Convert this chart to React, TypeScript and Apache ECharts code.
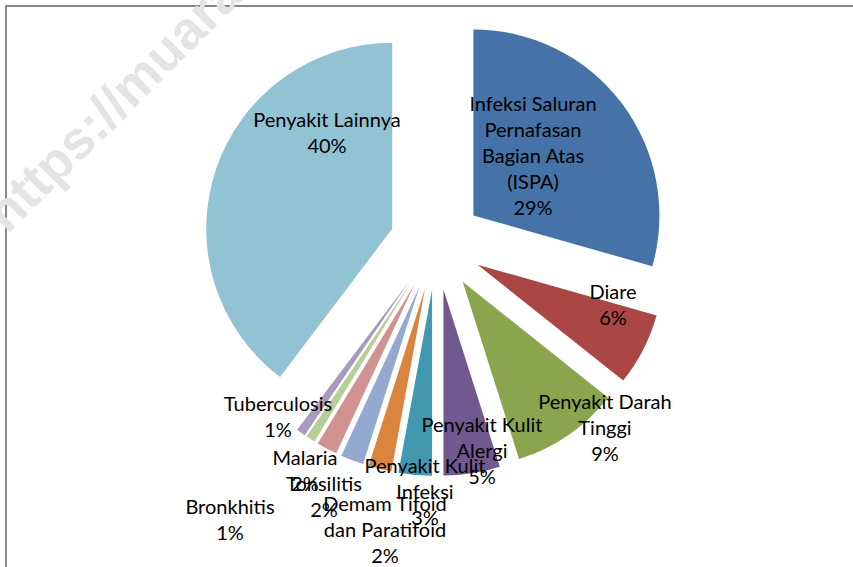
import React, { useEffect, useRef } from "react";
import * as echarts from "echarts";

const categories = [
  "Infeksi Saluran Pernafasan Bagian Atas (ISPA)",
  "Diare",
  "Penyakit Darah Tinggi",
  "Penyakit Kulit Alergi",
  "Penyakit Kulit Infeksi",
  "Demam Tifoid dan Paratifoid",
  "Tonsilitis",
  "Malaria",
  "Bronkhitis",
  "Tuberculosis",
  "Penyakit Lainnya",
];
// shares (percent); labels show them rounded
const values = [29.4, 6.3, 9.4, 4.9, 2.9, 2.0, 2.0, 1.8, 0.8, 0.8, 39.7];
const labelTexts = [
  "Infeksi Saluran\nPernafasan\nBagian Atas\n(ISPA)",
  "Diare",
  "Penyakit Darah\nTinggi",
  "Penyakit Kulit\nAlergi",
  "Penyakit Kulit\nInfeksi",
  "Demam Tifoid\ndan Paratifoid",
  "Tonsilitis",
  "Malaria",
  "Bronkhitis",
  "Tuberculosis",
  "Penyakit Lainnya",
];
const colors = [
  "#4572A7",
  "#AA4643",
  "#89A54E",
  "#71588F",
  "#4198AF",
  "#DB843D",
  "#93A9CF",
  "#D19392",
  "#B9CD96",
  "#A99BBD",
  "#92C3D4",
];
const labelPos: number[][] = [
  [533, 155],
  [613, 304],
  [605, 427],
  [482, 450],
  [425, 491],
  [385, 529],
  [324, 496],
  [305, 470],
  [230, 519],
  [278, 416],
  [327, 132],
];
const watermark = "https://muara";

export default function App() {
  const ref = useRef<HTMLDivElement>(null);
  useEffect(() => {
    if (!ref.current) return;
    const chart = echarts.init(ref.current, undefined, { renderer: "svg" });
    const total = values.reduce((a, b) => a + b, 0);
    const labels = labelTexts.map((t, i) => ({
      type: "text",
      x: labelPos[i][0],
      y: labelPos[i][1],
      z: 20,
      style: {
        text: t + "\n" + Math.round((values[i] / total) * 100) + "%",
        fill: "#000000",
        font: "20px Lato, 'Noto Sans', sans-serif",
        lineHeight: 26,
        align: "center",
        verticalAlign: "middle",
      },
    }));
    chart.setOption({
      animation: false,
      backgroundColor: "#ffffff",
      graphic: [
        {
          type: "rect",
          shape: { x: 6, y: 6, width: 1000, height: 1000 },
          style: { fill: "none", stroke: "#878787", lineWidth: 2 },
          z: 1,
        },
        {
          type: "text",
          x: 113,
          y: 103,
          rotation: Math.PI / 4,
          z: 2,
          style: {
            text: watermark,
            fill: "#e4e4e4",
            font: "bold 53px 'Liberation Sans', Arial, sans-serif",
            align: "center",
            verticalAlign: "middle",
          },
        },
        ...labels,
      ],
      series: [
        {
          type: "pie",
          center: [436.3, 243.5],
          radius: 186,
          startAngle: 90,
          clockwise: true,
          selectedMode: "multiple",
          selectedOffset: 46.5,
          avoidLabelOverlap: false,
          emphasis: { disabled: true },
          select: { itemStyle: { opacity: 1 } },
          label: { show: false },
          labelLine: { show: false },
          data: categories.map((name, i) => ({
            name,
            value: values[i],
            selected: true,
            itemStyle: { color: colors[i] },
          })),
        },
      ],
    });
    return () => chart.dispose();
  }, []);
  return (
    <div
      ref={ref}
      style={{ position: "fixed", left: 0, top: 0, width: 853, height: 567 }}
    />
  );
}
